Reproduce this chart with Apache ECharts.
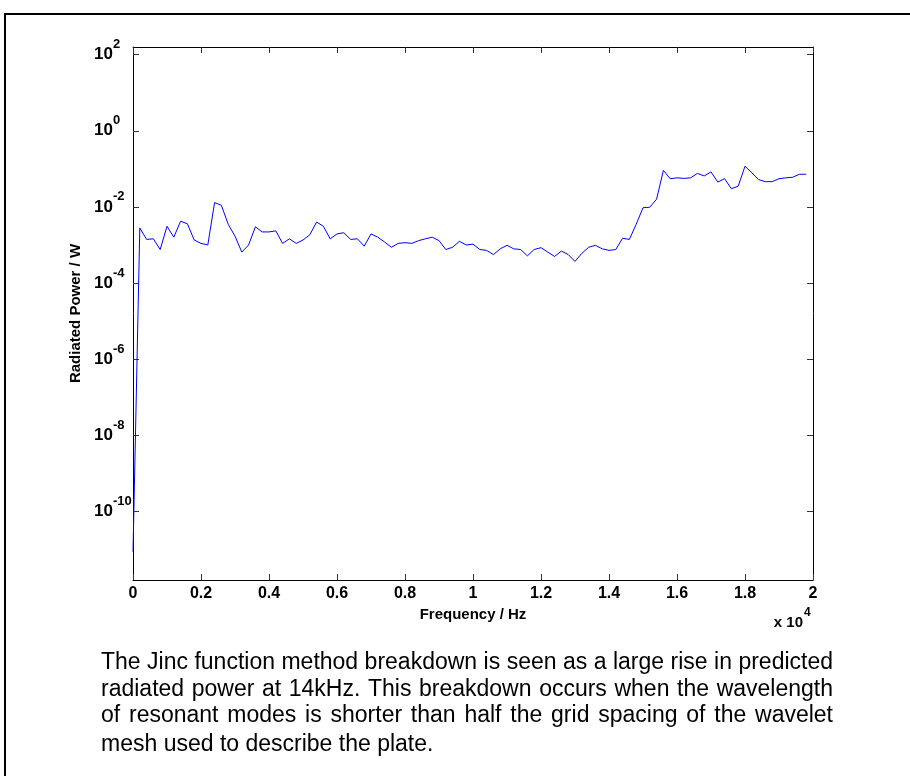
<!DOCTYPE html>
<html><head><meta charset="utf-8">
<script src="https://cdn.jsdelivr.net/npm/echarts@6/dist/echarts.min.js"></script>
<style>html,body{margin:0;padding:0;background:#fff}#c{width:910px;height:776px}</style>
</head><body><div id="c"></div>
<script>
// Frequency samples (Hz)
const frequencyHz = [
  0, 200, 400, 600, 800, 1000, 1200, 1400, 1600, 1800,
  2000, 2200, 2400, 2600, 2800, 3000, 3200, 3400, 3600, 3800,
  4000, 4200, 4400, 4600, 4800, 5000, 5200, 5400, 5600, 5800,
  6000, 6200, 6400, 6600, 6800, 7000, 7200, 7400, 7600, 7800,
  8000, 8200, 8400, 8600, 8800, 9000, 9200, 9400, 9600, 9800,
  10000, 10200, 10400, 10600, 10800, 11000, 11200, 11400, 11600, 11800,
  12000, 12200, 12400, 12600, 12800, 13000, 13200, 13400, 13600, 13800,
  14000, 14200, 14400, 14600, 14800, 15000, 15200, 15400, 15600, 15800,
  16000, 16200, 16400, 16600, 16800, 17000, 17200, 17400, 17600, 17800,
  18000, 18200, 18400, 18600, 18800, 19000, 19200, 19400, 19600, 19800
];
// Radiated power (W)
const powerW = [
  8.7e-12, 2.8e-3, 1.4e-3, 1.45e-3, 7.6e-4, 3.1e-3, 1.6e-3, 4.2e-3, 3.6e-3, 1.35e-3,
  1.1e-3, 1.0e-3, 1.3e-2, 1.1e-2, 3.5e-3, 1.7e-3, 6.5e-4, 1.0e-3, 3.0e-3, 2.2e-3,
  2.2e-3, 2.35e-3, 1.1e-3, 1.45e-3, 1.1e-3, 1.35e-3, 1.85e-3, 4.0e-3, 3.1e-3, 1.45e-3,
  1.95e-3, 2.1e-3, 1.4e-3, 1.45e-3, 9.3e-4, 1.95e-3, 1.6e-3, 1.2e-3, 8.7e-4, 1.1e-3,
  1.15e-3, 1.1e-3, 1.3e-3, 1.45e-3, 1.6e-3, 1.3e-3, 7.6e-4, 8.7e-4, 1.25e-3, 1.0e-3,
  1.05e-3, 7.6e-4, 7.2e-4, 5.6e-4, 7.9e-4, 9.8e-4, 7.9e-4, 7.6e-4, 5.2e-4, 7.6e-4,
  8.5e-4, 6.5e-4, 5.0e-4, 6.9e-4, 5.6e-4, 3.7e-4, 6.0e-4, 8.7e-4, 9.8e-4, 7.9e-4,
  7.2e-4, 7.6e-4, 1.5e-3, 1.4e-3, 3.5e-3, 9.5e-3, 9.8e-3, 1.6e-2, 9.1e-2, 5.5e-2,
  5.8e-2, 5.6e-2, 5.8e-2, 7.6e-2, 6.5e-2, 8.3e-2, 4.5e-2, 5.5e-2, 3.0e-2, 3.5e-2,
  1.17e-1, 7.9e-2, 5.2e-2, 4.6e-2, 4.6e-2, 5.5e-2, 5.8e-2, 6.0e-2, 7.2e-2, 7.2e-2
];
// Y tick decades (exponents of 10)
const yTickExponents = [-10, -8, -6, -4, -2, 0, 2];
const captionLines = [
  'The Jinc function method breakdown is seen as a large rise in predicted',
  'radiated power at 14kHz. This breakdown occurs when the wavelength',
  'of resonant modes is shorter than half the grid spacing of the wavelet',
  'mesh used to describe the plate.'
];

const FF = '"Liberation Sans", Arial, sans-serif';
const FN = '"Liberation Sans Narrow", "Arial Narrow", "Liberation Sans", Arial, sans-serif';
const chart = echarts.init(document.getElementById('c'), null, {renderer: 'canvas'});

const lineData = frequencyHz.map((f, i) => [f, Math.log10(powerW[i])]);

// caption (justified lines, word by word)
const capFontSize = 23;
const capFont = capFontSize + 'px ' + FF;
const mctx = document.createElement('canvas').getContext('2d');
mctx.font = capFont;
const capLeft = 101, capRight = 833;
const capY = [663, 690, 716, 745];
const captionGraphics = [];
captionLines.forEach((line, li) => {
  const words = line.split(' ');
  const justify = li < captionLines.length - 1;
  const widths = words.map(w => mctx.measureText(w).width);
  const total = widths.reduce((a, b) => a + b, 0);
  const gap = justify ? (capRight - capLeft - total) / (words.length - 1) : mctx.measureText(' ').width;
  let x = capLeft;
  words.forEach((w, wi) => {
    captionGraphics.push({
      type: 'text', x: x, y: capY[li], silent: true,
      style: {text: w, font: capFont, fill: '#000', align: 'left', verticalAlign: 'middle'}
    });
    x += widths[wi] + gap;
  });
});

const tickStyle = {color: '#333', width: 1};
const axisLineStyle = {color: '#000', width: 1};

chart.setOption({
  animation: false,
  backgroundColor: '#fff',
  grid: {left: 133, right: 97, top: 47, bottom: 196, outerBoundsMode: 'none'},
  xAxis: [
    {
      type: 'value', min: 0, max: 20000, interval: 2000, position: 'bottom',
      axisLine: {show: true, onZero: false, lineStyle: axisLineStyle},
      axisTick: {show: true, inside: true, length: 6, lineStyle: tickStyle},
      axisLabel: {
        formatter: v => String(Math.round(v / 1000) / 10),
        fontWeight: 'bold', fontSize: 16, color: '#000', margin: 6, fontFamily: FN
      },
      splitLine: {show: false},
      name: 'Frequency / Hz', nameLocation: 'middle', nameGap: 24,
      nameTextStyle: {fontWeight: 'bold', fontSize: 15, color: '#000', fontFamily: FN}
    },
    {
      type: 'value', min: 0, max: 20000, interval: 2000, position: 'top',
      axisLine: {show: true, onZero: false, lineStyle: axisLineStyle},
      axisTick: {show: true, inside: true, length: 6, lineStyle: tickStyle},
      axisLabel: {show: false}, splitLine: {show: false}
    }
  ],
  yAxis: [
    {
      type: 'value', min: -11.8, max: 2.2, position: 'left',
      axisLine: {show: true, onZero: false, lineStyle: axisLineStyle},
      axisTick: {show: true, inside: true, length: 6, lineStyle: tickStyle, customValues: yTickExponents},
      axisLabel: {
        customValues: yTickExponents,
        formatter: v => '{b|10}{e|' + Math.round(v) + '}',
        align: 'left', margin: 39,
        rich: {
          b: {fontSize: 17, fontWeight: 'bold', color: '#000', fontFamily: FN},
          e: {fontSize: 13, fontWeight: 'bold', color: '#000', fontFamily: FN, padding: [0, 0, 20, 0]}
        }
      },
      splitLine: {show: false},
      name: 'Radiated Power / W', nameLocation: 'middle', nameRotate: 90, nameGap: 49,
      nameTextStyle: {fontWeight: 'bold', fontSize: 15, color: '#000', fontFamily: FN}
    },
    {
      type: 'value', min: -11.8, max: 2.2, position: 'right',
      axisLine: {show: true, onZero: false, lineStyle: axisLineStyle},
      axisTick: {show: true, inside: true, length: 6, lineStyle: tickStyle, customValues: yTickExponents},
      axisLabel: {show: false}, splitLine: {show: false}
    }
  ],
  series: [{
    type: 'line', xAxisIndex: 0, yAxisIndex: 0, data: lineData,
    showSymbol: false, symbol: 'none', clip: true,
    lineStyle: {color: '#0000ff', width: 1}
  }],
  graphic: [
    {type: 'rect', silent: true, shape: {x: 5, y: 14, width: 1000, height: 1000},
     style: {fill: 'none', stroke: '#000', lineWidth: 2}},
    {type: 'text', silent: true, x: 803, y: 623,
     style: {text: 'x 10', font: 'bold 15px ' + FN, fill: '#000', align: 'right', verticalAlign: 'middle'}},
    {type: 'text', silent: true, x: 804, y: 613,
     style: {text: '4', font: 'bold 12px ' + FN, fill: '#000', align: 'left', verticalAlign: 'middle'}}
  ].concat(captionGraphics)
});
</script></body></html>
